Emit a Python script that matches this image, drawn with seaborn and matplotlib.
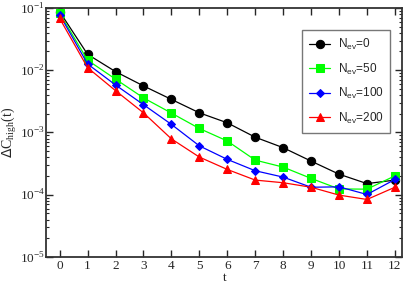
import numpy as np
import pandas as pd
import matplotlib
matplotlib.use("Agg")
import matplotlib.pyplot as plt
import seaborn as sns
from matplotlib.ticker import LogLocator, NullFormatter, FixedLocator, FuncFormatter

# data
t = list(range(13))
dc_0 = [0.087, 0.018, 0.0095, 0.0056, 0.0034, 0.00207, 0.00143, 0.00084, 0.00057, 0.000347, 0.000214, 0.000151, 0.000172]
dc_50 = [0.082, 0.0145, 0.0072, 0.0036, 0.00205, 0.00116, 0.00073, 0.00036, 0.000278, 0.000183, 0.000124, 0.000123, 0.000201]
dc_100 = [0.078, 0.0126, 0.0058, 0.0028, 0.00135, 0.00061, 0.00037, 0.000243, 0.000192, 0.000132, 0.000134, 0.000101, 0.000176]
dc_200 = [0.068, 0.011, 0.0047, 0.00207, 0.00079, 0.000403, 0.000255, 0.000172, 0.000156, 0.000132, 0.0000987, 0.000084, 0.000132]

labels = [r"N$_{\mathregular{ev}}$=0", r"N$_{\mathregular{ev}}$=50",
          r"N$_{\mathregular{ev}}$=100", r"N$_{\mathregular{ev}}$=200"]
series = [dc_0, dc_50, dc_100, dc_200]
colors = ["#000000", "#00ff00", "#0000ff", "#ff0000"]
markers = ["o", "s", "D", "^"]

df = pd.concat([pd.DataFrame({"t": t, "dc": s, "N": lab}) for s, lab in zip(series, labels)])

sns.set_style("ticks")
plt.rcParams["font.family"] = ["Liberation Serif", "DejaVu Serif"]

fig, ax = plt.subplots(figsize=(4.09, 2.84), dpi=100)
sizes = {"o": 6, "s": 5.5, "D": 4.5, "^": 6}
for lab, col, mk in zip(labels, colors, markers):
    sns.lineplot(data=df[df["N"] == lab], x="t", y="dc", ax=ax, color=col, marker=mk,
                 markersize=sizes[mk], markeredgecolor=col, linewidth=0.9, label=lab)

ax.set_yscale("log")
ax.set_ylim(1e-5, 1e-1)
ax.set_xlim(-0.48, 12.27)
ax.xaxis.set_major_locator(FixedLocator(t))
ax.yaxis.set_major_locator(LogLocator(base=10, numticks=10))
ax.yaxis.set_major_formatter(FuncFormatter(lambda v, p: r"10$^{\mathregular{%d}}$" % round(np.log10(v))))
ax.yaxis.set_minor_locator(LogLocator(base=10, subs=np.arange(2, 10), numticks=10))
ax.yaxis.set_minor_formatter(NullFormatter())
ax.tick_params(which="both", direction="in", top=True, right=True, labelsize=9.5)
ax.tick_params(which="major", length=5, width=1)
ax.tick_params(which="minor", length=2.5, width=0.8)
ax.tick_params(axis="y", pad=1)
ax.tick_params(axis="x", pad=2)
for sp in ax.spines.values():
    sp.set_linewidth(1.3)
    sp.set_color("#333333")

ax.set_xlabel("t", fontsize=9.5)
ax.xaxis.set_label_coords(0.5, -0.062)
ax.set_ylabel(r"$\Delta$C$_{\mathregular{high}}$(t)", fontsize=10)
ax.yaxis.set_label_coords(-0.075, 0.5)

leg = ax.legend(loc="upper right", bbox_to_anchor=(0.966, 0.912), frameon=True, fancybox=False,
                edgecolor="#555555", prop={"family": "Liberation Sans", "size": 8.5},
                handlelength=1.8, labelspacing=0.8, borderpad=0.6, handletextpad=0.6,
                borderaxespad=0)
leg.get_frame().set_linewidth(1.0)

fig.subplots_adjust(left=0.113, right=0.984, top=0.972, bottom=0.095)
fig.savefig("out.png", dpi=100)
